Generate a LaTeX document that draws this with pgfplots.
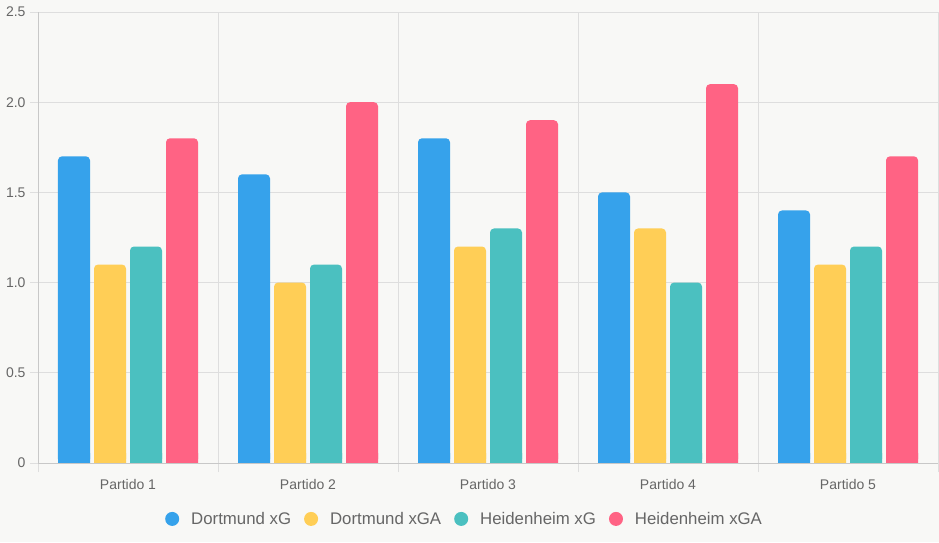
\documentclass[border=0pt]{standalone}
\usepackage{fontspec}
\setmainfont{Liberation Sans}
\usepackage{pgfplots}
\pgfplotsset{compat=1.18}
\definecolor{bg}{RGB}{248,248,246}
\definecolor{gridgray}{RGB}{222,222,222}
\definecolor{axisgray}{RGB}{200,200,200}
\definecolor{labelgray}{RGB}{102,102,102}
\definecolor{cblue}{RGB}{54,162,235}
\definecolor{cyellow}{RGB}{255,206,86}
\definecolor{cteal}{RGB}{75,192,192}
\definecolor{cpink}{RGB}{255,99,132}
\pgfplotstableread{
x dxg dxga hxg hxga
0 1.7 1.1 1.2 1.8
1 1.6 1.0 1.1 2.0
2 1.8 1.2 1.3 1.9
3 1.5 1.3 1.0 2.1
4 1.4 1.1 1.2 1.7
}\datatable
\begin{document}
\begin{tikzpicture}
\fill[bg] (0pt,0pt) rectangle (939pt,542pt);
\useasboundingbox (0pt,0pt) rectangle (939pt,542pt);
\begin{axis}[
  at={(38pt,79pt)}, anchor=south west,
  scale only axis, width=900pt, height=451pt,
  xmin=-0.5, xmax=4.5, ymin=0, ymax=2.5,
  axis lines*=left,
  axis line style={draw=axisgray, line width=1pt},
  ybar=4pt, bar width=32pt,
  ytick={0,0.5,1,1.5,2,2.5},
  yticklabels={0,0.5,1.0,1.5,2.0,2.5},
  xtick={0,1,2,3,4},
  xticklabels={Partido 1,Partido 2,Partido 3,Partido 4,Partido 5},
  minor xtick={-0.5,0.5,1.5,2.5,3.5,4.5},
  ymajorgrids, xminorgrids,
  major grid style={draw=gridgray, line width=1pt},
  minor grid style={draw=gridgray, line width=1pt},
  tick align=outside,
  major tick length=8pt, minor tick length=9pt,
  major x tick style={draw=none},
  major y tick style={draw=gridgray, line width=1pt},
  minor x tick style={draw=gridgray, line width=1pt},
  ticklabel style={font=\fontsize{14}{16}\selectfont, text=labelgray},
  xticklabel style={yshift=-5pt},
  yticklabel style={xshift=-1pt},
  legend columns=4,
  legend style={draw=none, fill=none, at={(axis description cs:0.474,-0.124)}, anchor=center,
    font=\fontsize{16.8}{19}\selectfont, text=labelgray,
    /tikz/every even column/.append style={column sep=11pt}},
  legend image code/.code={\fill[#1,draw=none] (7pt,0pt) circle (7pt); \path (24pt,0pt);},
  every axis plot/.append style={draw=none, rounded corners=4pt},
]
\addplot[fill=cblue] table[x=x,y=dxg] {\datatable};
\addplot[fill=cyellow] table[x=x,y=dxga] {\datatable};
\addplot[fill=cteal] table[x=x,y=hxg] {\datatable};
\addplot[fill=cpink] table[x=x,y=hxga] {\datatable};
\legend{Dortmund xG, Dortmund xGA, Heidenheim xG, Heidenheim xGA}
\end{axis}
% overlay: square off the bottoms of the bars
\begin{axis}[
  at={(38pt,79pt)}, anchor=south west,
  scale only axis, width=900pt, height=9.02pt,
  xmin=-0.5, xmax=4.5, ymin=0, ymax=0.05,
  hide axis, clip=true,
  ybar=4pt, bar width=32pt,
  every axis plot/.append style={draw=none},
]
\addplot[fill=cblue] table[x=x,y=dxg] {\datatable};
\addplot[fill=cyellow] table[x=x,y=dxga] {\datatable};
\addplot[fill=cteal] table[x=x,y=hxg] {\datatable};
\addplot[fill=cpink] table[x=x,y=hxga] {\datatable};
\draw[axisgray, line width=1pt] (axis cs:-0.5,0) -- (axis cs:4.5,0);
\end{axis}
\end{tikzpicture}
\end{document}
